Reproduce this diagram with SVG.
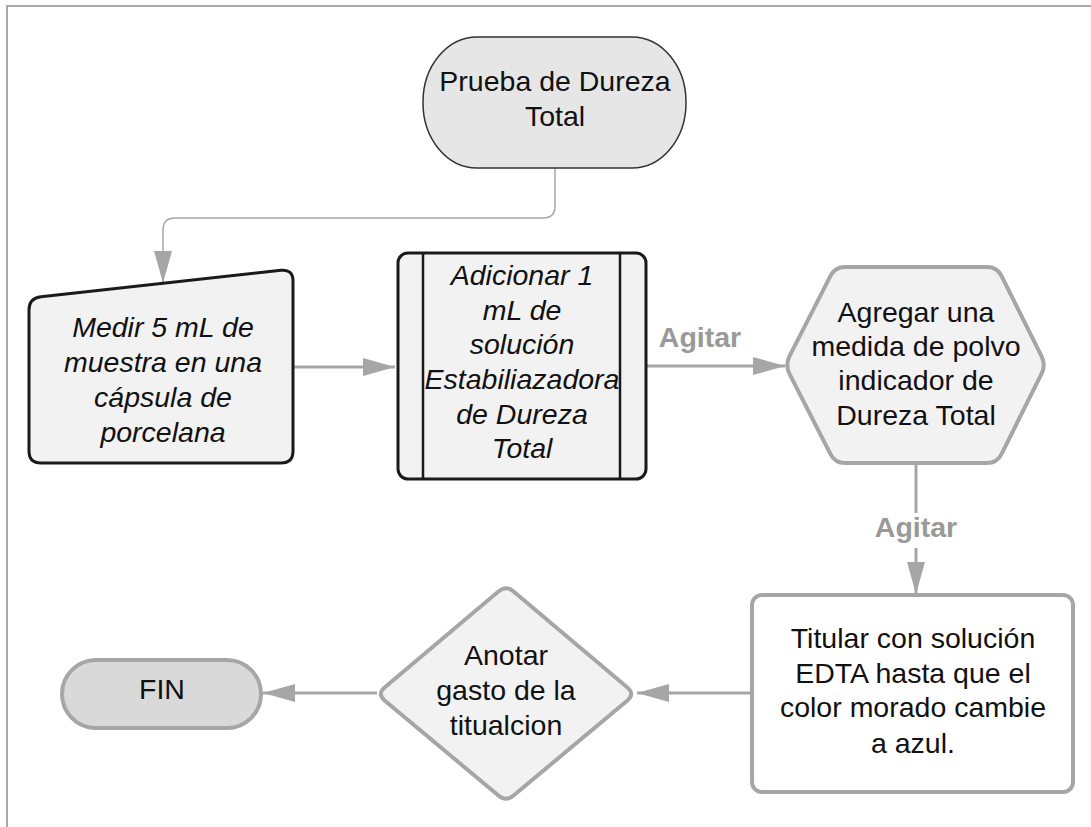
<svg xmlns="http://www.w3.org/2000/svg" width="1091" height="827" viewBox="0 0 1091 827">
<defs>
<style>
text{font-family:"Liberation Sans",Arial,sans-serif;font-size:28.5px;fill:#111;text-anchor:middle}
.it{font-style:italic}
.lbl{font-weight:bold;fill:#999}
.dark{fill:#f2f2f2;stroke:#1a1a1a;stroke-width:3}
.grey{fill:#f2f2f2;stroke:#a6a6a6;stroke-width:4}
.conn{fill:none;stroke:#a6a6a6;stroke-width:3}
.thin{stroke-width:1.5}
</style>
<marker id="ah" markerUnits="userSpaceOnUse" markerWidth="32" markerHeight="18" refX="32" refY="9" orient="auto">
<path d="M0,0 L32,9 L0,18 Z" fill="#a6a6a6"/>
</marker>
</defs>
<rect width="1091" height="827" fill="#fff"/>
<path d="M7,827 L7,6 L1091,6" fill="none" stroke="#aaa" stroke-width="2"/>

<g id="connectors">
<path class="conn thin" d="M555,168 L555,206 Q555,218 543,218 L175,218 Q163,218 163,230 L163,283" marker-end="url(#ah)"/>
<path class="conn" d="M293,367 L395,367" marker-end="url(#ah)"/>
<path class="conn" d="M646,366 L785,366" marker-end="url(#ah)"/>
<text class="lbl" x="700" y="347">Agitar</text>
<path class="conn" d="M916,463 L916,513"/>
<path class="conn" d="M916,548 L916,594" marker-end="url(#ah)"/>
<text class="lbl" x="916" y="537">Agitar</text>
<path class="conn" d="M752,693 L637,693" marker-end="url(#ah)"/>
<path class="conn" d="M377,693 L263,693" marker-end="url(#ah)"/>
</g>

<g id="start">
<rect x="423" y="37" width="263" height="131" rx="54" ry="65" fill="#e6e6e6" stroke="#333" stroke-width="1.5"/>
<text x="555" y="91">Prueba de Dureza</text>
<text x="555" y="126">Total</text>
</g>

<g id="medir">
<path class="dark" d="M29,310 Q29,298 41,296.7 L281,270.3 Q293,269 293,281 L293,451 Q293,463 281,463 L41,463 Q29,463 29,451 Z"/>
<text class="it" x="163" y="337">Medir 5 mL de</text>
<text class="it" x="163" y="372">muestra en una</text>
<text class="it" x="163" y="407">cápsula de</text>
<text class="it" x="163" y="442">porcelana</text>
</g>

<g id="adicionar">
<rect class="dark" x="398" y="253" width="248" height="226" rx="10"/>
<path d="M423,253 L423,479 M620,253 L620,479" stroke="#1a1a1a" stroke-width="2.5"/>
<text class="it" x="522" y="285">Adicionar 1</text>
<text class="it" x="522" y="320">mL de</text>
<text class="it" x="522" y="354">solución</text>
<text class="it" x="522" y="389">Estabiliazadora</text>
<text class="it" x="522" y="424">de Dureza</text>
<text class="it" x="522" y="458">Total</text>
</g>

<g id="agregar">
<path class="grey" d="M789.5,356.1 L830.5,275.9 Q835,267 845,267 L987,267 Q997,267 1001.5,275.9 L1041.5,356.1 Q1046,365 1041.5,373.9 L1001.5,454.1 Q997,463 987,463 L845,463 Q835,463 830.5,454.1 L789.5,373.9 Q785,365 789.5,356.1 Z"/>
<text x="916" y="322">Agregar una</text>
<text x="916" y="356">medida de polvo</text>
<text x="916" y="390">indicador de</text>
<text x="916" y="425">Dureza Total</text>
</g>

<g id="titular">
<rect x="752" y="595" width="321" height="197" rx="10" fill="#fff" stroke="#a6a6a6" stroke-width="4"/>
<text x="913" y="648">Titular con solución</text>
<text x="913" y="683">EDTA hasta que el</text>
<text x="913" y="717">color morado cambie</text>
<text x="913" y="753">a azul.</text>
</g>

<g id="anotar">
<path class="grey" d="M384.6,687.5 L498.4,591.5 Q506,585 513.6,591.5 L627.4,687.5 Q635,694 627.4,700.5 L513.6,795.5 Q506,802 498.4,795.5 L384.6,700.5 Q377,694 384.6,687.5 Z"/>
<text x="506" y="665">Anotar</text>
<text x="506" y="700">gasto de la</text>
<text x="506" y="735">titualcion</text>
</g>

<g id="fin">
<rect x="62" y="660" width="199" height="68" rx="34" fill="#d9d9d9" stroke="#a6a6a6" stroke-width="4"/>
<text x="162" y="699">FIN</text>
</g>
</svg>
